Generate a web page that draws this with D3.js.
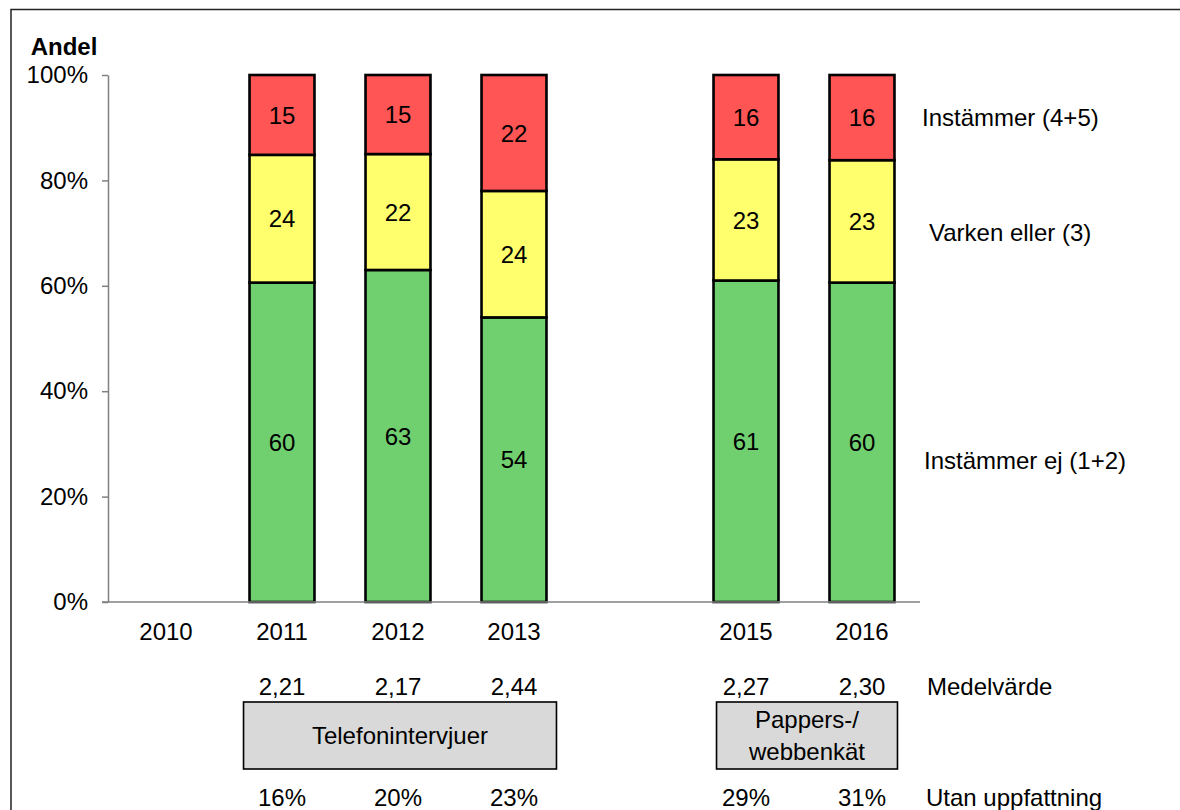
<!DOCTYPE html>
<html>
<head>
<meta charset="utf-8">
<script src="https://cdn.jsdelivr.net/npm/d3@7"></script>
<style>
  html, body { margin: 0; padding: 0; background: #fff; }
  svg { display: block; font-family: "Liberation Sans", Arial, sans-serif; }
</style>
</head>
<body>
<svg id="chart" width="1180" height="810"></svg>
<script>
// ---- data ----
const categories = ["2010", "2011", "2012", "2013", "", "2015", "2016"];
const instammerEj = [null, 60, 63, 54, null, 61, 60];   // Instämmer ej (1+2)
const varkenEller = [null, 24, 22, 24, null, 23, 23];   // Varken eller (3)
const instammer   = [null, 15, 15, 22, null, 16, 16];   // Instämmer (4+5)
const medelvarde  = ["", "2,21", "2,17", "2,44", "", "2,27", "2,30"];
const utanUppfattning = ["", "16%", "20%", "23%", "", "29%", "31%"];
const seriesNames = ["Instämmer ej (1+2)", "Varken eller (3)", "Instämmer (4+5)"];
const seriesColors = ["#70D070", "#FFFF6E", "#FF5555"];
const yTicks = [0, 0.2, 0.4, 0.6, 0.8, 1.0];
const groups = [
  { label: ["Telefonintervjuer"], from: "2011", to: "2013" },
  { label: ["Pappers-/", "webbenkät"], from: "2015", to: "2016" }
];

// ---- layout ----
const svg = d3.select("#chart");
const pLeft = 108, pRight = 920, pTop = 75, pBottom = 602;
const fs = 24;

const x = d3.scaleBand().domain(categories).range([pLeft, pRight])
  .paddingInner(0.44).paddingOuter(0.22);
const y = d3.scaleLinear().domain([0, 1]).range([pBottom, pTop]);

// frame
svg.append("path")
  .attr("d", `M11,812 L11,9.5 L1182,9.5`)
  .attr("fill", "none").attr("stroke", "#222").attr("stroke-width", 1.5);

// table for stacking
const table = categories.map((c, i) => ({
  cat: c, a: instammerEj[i], b: varkenEller[i], c: instammer[i]
})).filter(d => d.a != null);
const stack = d3.stack().keys(["a", "b", "c"]).offset(d3.stackOffsetExpand);
const stacked = stack(table);

// bars
stacked.forEach((layer, li) => {
  const g = svg.append("g");
  g.selectAll("rect").data(layer).enter().append("rect")
    .attr("x", d => x(d.data.cat))
    .attr("width", x.bandwidth())
    .attr("y", d => y(d[1]))
    .attr("height", d => y(d[0]) - y(d[1]))
    .attr("fill", seriesColors[li])
    .attr("stroke", "#000").attr("stroke-width", 2.6);
  g.selectAll("text").data(layer).enter().append("text")
    .attr("x", d => x(d.data.cat) + x.bandwidth() / 2)
    .attr("y", d => (y(d[0]) + y(d[1])) / 2)
    .attr("dy", "0.36em")
    .attr("text-anchor", "middle")
    .attr("font-size", fs)
    .attr("fill", "#000")
    .text(d => d.data[layer.key]);
});

// y axis
const yAxis = svg.append("g").attr("transform", `translate(${pLeft},0)`)
  .call(d3.axisLeft(y).tickValues(yTicks).tickFormat(d3.format(".0%"))
    .tickSize(6).tickPadding(14).tickSizeOuter(0));
yAxis.select(".domain").attr("stroke", "#808080").attr("stroke-width", 1.5);
yAxis.selectAll(".tick line").attr("stroke", "#808080").attr("stroke-width", 1.5);
yAxis.selectAll(".tick text").attr("font-size", fs).attr("fill", "#000")
  .attr("font-family", "Liberation Sans, Arial, sans-serif");

// x axis
const xAxis = svg.append("g").attr("transform", `translate(0,${pBottom})`)
  .call(d3.axisBottom(x).tickSize(0).tickPadding(21).tickSizeOuter(0));
xAxis.select(".domain").attr("stroke", "#808080").attr("stroke-width", 1.5)
  .attr("d", `M${pLeft - 6},0H${pRight}`);
xAxis.selectAll(".tick text").attr("font-size", fs).attr("fill", "#000")
  .attr("font-family", "Liberation Sans, Arial, sans-serif");
xAxis.raise();

// y label
svg.append("text").attr("x", 64).attr("y", 46).attr("dy", "0.36em")
  .attr("text-anchor", "middle").attr("font-size", fs).attr("font-weight", "bold")
  .text("Andel");

// series labels on the right
const seriesLabelPos = [[924, 460], [929, 232], [922, 117]];
seriesNames.forEach((n, i) => {
  svg.append("text").attr("x", seriesLabelPos[i][0]).attr("y", seriesLabelPos[i][1])
    .attr("dy", "0.36em").attr("font-size", fs).text(n);
});

// medelvärde row
svg.append("g").selectAll("text").data(categories).enter().append("text")
  .attr("x", c => x(c) + x.bandwidth() / 2).attr("y", 686).attr("dy", "0.36em")
  .attr("text-anchor", "middle").attr("font-size", fs)
  .text((c, i) => medelvarde[i]);
svg.append("text").attr("x", 927).attr("y", 686).attr("dy", "0.36em")
  .attr("font-size", fs).text("Medelvärde");

// utan uppfattning row
svg.append("g").selectAll("text").data(categories).enter().append("text")
  .attr("x", c => x(c) + x.bandwidth() / 2).attr("y", 797).attr("dy", "0.36em")
  .attr("text-anchor", "middle").attr("font-size", fs)
  .text((c, i) => utanUppfattning[i]);
svg.append("text").attr("x", 926).attr("y", 797).attr("dy", "0.36em")
  .attr("font-size", fs).text("Utan uppfattning");

// group boxes
const boxOffsets = [[-6, 10], [3, 3]];
groups.forEach((gr, i) => {
  const x0 = x(gr.from) + boxOffsets[i][0];
  const x1 = x(gr.to) + x.bandwidth() + boxOffsets[i][1];
  const y0 = 702, y1 = 769;
  svg.append("rect").attr("x", x0).attr("y", y0).attr("width", x1 - x0).attr("height", y1 - y0)
    .attr("fill", "#D9D9D9").attr("stroke", "#000").attr("stroke-width", 1.6);
  const cx = (x0 + x1) / 2, cy = (y0 + y1) / 2;
  const lh = 32;
  gr.label.forEach((t, j) => {
    svg.append("text").attr("x", cx)
      .attr("y", cy + (j - (gr.label.length - 1) / 2) * lh).attr("dy", "0.36em")
      .attr("text-anchor", "middle").attr("font-size", fs).text(t);
  });
});
</script>
</body>
</html>
